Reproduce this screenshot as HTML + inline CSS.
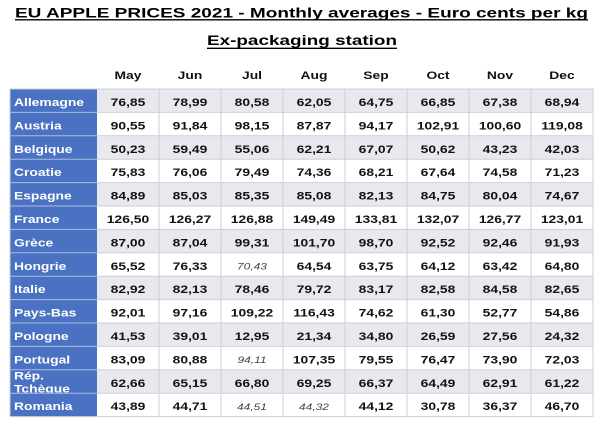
<!DOCTYPE html>
<html>
<head>
<meta charset="utf-8">
<style>
html,body{margin:0;padding:0;background:#fff;}
svg{display:block;}
text{font-family:"Liberation Sans",Arial,sans-serif;}
</style>
</head>
<body>
<svg width="600" height="423" viewBox="0 0 600 423" xmlns="http://www.w3.org/2000/svg">
<rect width="600" height="423" fill="#fff"/>
<!-- Title -->
<text x="15" y="17.5" font-size="14" font-weight="bold" fill="#000" textLength="573" lengthAdjust="spacingAndGlyphs">EU APPLE PRICES 2021 - Monthly averages - Euro cents per kg</text>
<line x1="15" y1="19.8" x2="588" y2="19.8" stroke="#000" stroke-width="1.3"/>
<text x="207" y="45" font-size="14" font-weight="bold" fill="#000" textLength="190" lengthAdjust="spacingAndGlyphs">Ex-packaging station</text>
<line x1="207" y1="48.3" x2="397" y2="48.3" stroke="#000" stroke-width="1.3"/>

<!-- Row backgrounds -->
<g>
<rect x="97" y="89" width="496" height="23.4" fill="#E8E9EF"/>
<rect x="97" y="135.8" width="496" height="23.4" fill="#E8E9EF"/>
<rect x="97" y="182.6" width="496" height="23.4" fill="#E8E9EF"/>
<rect x="97" y="229.4" width="496" height="23.4" fill="#E8E9EF"/>
<rect x="97" y="276.2" width="496" height="23.4" fill="#E8E9EF"/>
<rect x="97" y="323" width="496" height="23.4" fill="#E8E9EF"/>
<rect x="97" y="369.8" width="496" height="23.4" fill="#E8E9EF"/>
<rect x="10" y="89" width="87" height="327.6" fill="#4A71C2"/>
</g>
<!-- Grid -->
<g stroke="#CDCFD8" stroke-width="1">
<line x1="97" y1="112.4" x2="593" y2="112.4"/>
<line x1="97" y1="135.8" x2="593" y2="135.8"/>
<line x1="97" y1="159.2" x2="593" y2="159.2"/>
<line x1="97" y1="182.6" x2="593" y2="182.6"/>
<line x1="97" y1="206" x2="593" y2="206"/>
<line x1="97" y1="229.4" x2="593" y2="229.4"/>
<line x1="97" y1="252.8" x2="593" y2="252.8"/>
<line x1="97" y1="276.2" x2="593" y2="276.2"/>
<line x1="97" y1="299.6" x2="593" y2="299.6"/>
<line x1="97" y1="323" x2="593" y2="323"/>
<line x1="97" y1="346.4" x2="593" y2="346.4"/>
<line x1="97" y1="369.8" x2="593" y2="369.8"/>
<line x1="97" y1="393.2" x2="593" y2="393.2"/>
<line x1="159" y1="89" x2="159" y2="416.6"/>
<line x1="221" y1="89" x2="221" y2="416.6"/>
<line x1="283" y1="89" x2="283" y2="416.6"/>
<line x1="345" y1="89" x2="345" y2="416.6"/>
<line x1="407" y1="89" x2="407" y2="416.6"/>
<line x1="469" y1="89" x2="469" y2="416.6"/>
<line x1="531" y1="89" x2="531" y2="416.6"/>
<rect x="10" y="89" width="583" height="327.6" fill="none"/>
</g>
<g stroke="#A9BBE3" stroke-width="1">
<line x1="10" y1="112.4" x2="97" y2="112.4"/>
<line x1="10" y1="135.8" x2="97" y2="135.8"/>
<line x1="10" y1="159.2" x2="97" y2="159.2"/>
<line x1="10" y1="182.6" x2="97" y2="182.6"/>
<line x1="10" y1="206" x2="97" y2="206"/>
<line x1="10" y1="229.4" x2="97" y2="229.4"/>
<line x1="10" y1="252.8" x2="97" y2="252.8"/>
<line x1="10" y1="276.2" x2="97" y2="276.2"/>
<line x1="10" y1="299.6" x2="97" y2="299.6"/>
<line x1="10" y1="323" x2="97" y2="323"/>
<line x1="10" y1="346.4" x2="97" y2="346.4"/>
<line x1="10" y1="369.8" x2="97" y2="369.8"/>
<line x1="10" y1="393.2" x2="97" y2="393.2"/>
</g>

<defs>
<clipPath id="repclip"><rect x="10" y="369.8" width="87" height="23"/></clipPath>
</defs>

<g transform="scale(1.26,1)">
<!-- Headers -->
<g font-size="11" font-weight="bold" fill="#111" text-anchor="middle">
<text x="101.59" y="79">May</text>
<text x="150.79" y="79">Jun</text>
<text x="200" y="79">Jul</text>
<text x="249.21" y="79">Aug</text>
<text x="298.41" y="79">Sep</text>
<text x="347.62" y="79">Oct</text>
<text x="396.83" y="79">Nov</text>
<text x="446.03" y="79">Dec</text>
</g>
<!-- Labels -->
<g font-size="11" font-weight="bold" fill="#fff">
<text x="11.1" y="106">Allemagne</text>
<text x="11.1" y="129.4">Austria</text>
<text x="11.1" y="152.8">Belgique</text>
<text x="11.1" y="176.2">Croatie</text>
<text x="11.1" y="199.6">Espagne</text>
<text x="11.1" y="223">France</text>
<text x="11.1" y="246.4">Grèce</text>
<text x="11.1" y="269.8">Hongrie</text>
<text x="11.1" y="293.2">Italie</text>
<text x="11.1" y="316.6">Pays-Bas</text>
<text x="11.1" y="340">Pologne</text>
<text x="11.1" y="363.4">Portugal</text>
<text x="11.1" y="410.2">Romania</text>
</g>
</g>
<g clip-path="url(#repclip)">
<g transform="scale(1.26,1)" font-size="11" font-weight="bold" fill="#fff">
<text x="11.1" y="379.5">Rép.</text>
<text x="11.1" y="392.5">Tchèque</text>
</g>
</g>

<g transform="scale(1.26,1)" font-size="11" font-weight="bold" fill="#111" text-anchor="middle">
<!-- Allemagne -->
<text x="101.59" y="106">76,85</text><text x="150.79" y="106">78,99</text><text x="200" y="106">80,58</text><text x="249.21" y="106">62,05</text><text x="298.41" y="106">64,75</text><text x="347.62" y="106">66,85</text><text x="396.83" y="106">67,38</text><text x="446.03" y="106">68,94</text>
<!-- Austria -->
<text x="101.59" y="129.4">90,55</text><text x="150.79" y="129.4">91,84</text><text x="200" y="129.4">98,15</text><text x="249.21" y="129.4">87,87</text><text x="298.41" y="129.4">94,17</text><text x="347.62" y="129.4">102,91</text><text x="396.83" y="129.4">100,60</text><text x="446.03" y="129.4">119,08</text>
<!-- Belgique -->
<text x="101.59" y="152.8">50,23</text><text x="150.79" y="152.8">59,49</text><text x="200" y="152.8">55,06</text><text x="249.21" y="152.8">62,21</text><text x="298.41" y="152.8">67,07</text><text x="347.62" y="152.8">50,62</text><text x="396.83" y="152.8">43,23</text><text x="446.03" y="152.8">42,03</text>
<!-- Croatie -->
<text x="101.59" y="176.2">75,83</text><text x="150.79" y="176.2">76,06</text><text x="200" y="176.2">79,49</text><text x="249.21" y="176.2">74,36</text><text x="298.41" y="176.2">68,21</text><text x="347.62" y="176.2">67,64</text><text x="396.83" y="176.2">74,58</text><text x="446.03" y="176.2">71,23</text>
<!-- Espagne -->
<text x="101.59" y="199.6">84,89</text><text x="150.79" y="199.6">85,03</text><text x="200" y="199.6">85,35</text><text x="249.21" y="199.6">85,08</text><text x="298.41" y="199.6">82,13</text><text x="347.62" y="199.6">84,75</text><text x="396.83" y="199.6">80,04</text><text x="446.03" y="199.6">74,67</text>
<!-- France -->
<text x="101.59" y="223">126,50</text><text x="150.79" y="223">126,27</text><text x="200" y="223">126,88</text><text x="249.21" y="223">149,49</text><text x="298.41" y="223">133,81</text><text x="347.62" y="223">132,07</text><text x="396.83" y="223">126,77</text><text x="446.03" y="223">123,01</text>
<!-- Grece -->
<text x="101.59" y="246.4">87,00</text><text x="150.79" y="246.4">87,04</text><text x="200" y="246.4">99,31</text><text x="249.21" y="246.4">101,70</text><text x="298.41" y="246.4">98,70</text><text x="347.62" y="246.4">92,52</text><text x="396.83" y="246.4">92,46</text><text x="446.03" y="246.4">91,93</text>
<!-- Hongrie -->
<text x="101.59" y="269.8">65,52</text><text x="150.79" y="269.8">76,33</text><text x="249.21" y="269.8">64,54</text><text x="298.41" y="269.8">63,75</text><text x="347.62" y="269.8">64,12</text><text x="396.83" y="269.8">63,42</text><text x="446.03" y="269.8">64,80</text>
<!-- Italie -->
<text x="101.59" y="293.2">82,92</text><text x="150.79" y="293.2">82,13</text><text x="200" y="293.2">78,46</text><text x="249.21" y="293.2">79,72</text><text x="298.41" y="293.2">83,17</text><text x="347.62" y="293.2">82,58</text><text x="396.83" y="293.2">84,58</text><text x="446.03" y="293.2">82,65</text>
<!-- Pays-Bas -->
<text x="101.59" y="316.6">92,01</text><text x="150.79" y="316.6">97,16</text><text x="200" y="316.6">109,22</text><text x="249.21" y="316.6">116,43</text><text x="298.41" y="316.6">74,62</text><text x="347.62" y="316.6">61,30</text><text x="396.83" y="316.6">52,77</text><text x="446.03" y="316.6">54,86</text>
<!-- Pologne -->
<text x="101.59" y="340">41,53</text><text x="150.79" y="340">39,01</text><text x="200" y="340">12,95</text><text x="249.21" y="340">21,34</text><text x="298.41" y="340">34,80</text><text x="347.62" y="340">26,59</text><text x="396.83" y="340">27,56</text><text x="446.03" y="340">24,32</text>
<!-- Portugal -->
<text x="101.59" y="363.4">83,09</text><text x="150.79" y="363.4">80,88</text><text x="249.21" y="363.4">107,35</text><text x="298.41" y="363.4">79,55</text><text x="347.62" y="363.4">76,47</text><text x="396.83" y="363.4">73,90</text><text x="446.03" y="363.4">72,03</text>
<!-- Rep Tcheque -->
<text x="101.59" y="386.8">62,66</text><text x="150.79" y="386.8">65,15</text><text x="200" y="386.8">66,80</text><text x="249.21" y="386.8">69,25</text><text x="298.41" y="386.8">66,37</text><text x="347.62" y="386.8">64,49</text><text x="396.83" y="386.8">62,91</text><text x="446.03" y="386.8">61,22</text>
<!-- Romania -->
<text x="101.59" y="410.2">43,89</text><text x="150.79" y="410.2">44,71</text><text x="298.41" y="410.2">44,12</text><text x="347.62" y="410.2">30,78</text><text x="396.83" y="410.2">36,37</text><text x="446.03" y="410.2">46,70</text>
</g>
<!-- Italic values -->
<g transform="scale(1.26,1)" font-size="9.5" font-style="italic" fill="#444" text-anchor="middle">
<text x="200" y="269.5">70,43</text>
<text x="200" y="363">94,11</text>
<text x="200" y="409.8">44,51</text>
<text x="249.21" y="409.8">44,32</text>
</g>
</svg>
</body>
</html>
